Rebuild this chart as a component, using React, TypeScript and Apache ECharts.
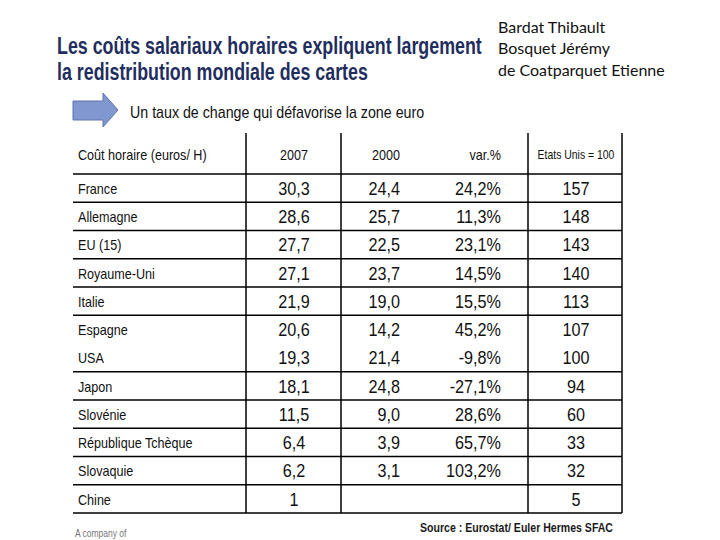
import React, { useEffect, useRef } from "react";
import * as echarts from "echarts";

const titleLines = [
  "Les coûts salariaux horaires expliquent largement",
  "la redistribution mondiale des cartes",
];
const subtitle = "Un taux de change qui défavorise la zone euro";
const authors = ["Bardat Thibault", "Bosquet Jérémy", "de Coatparquet Etienne"];
const headers = ["Coût horaire (euros/ H)", "2007", "2000", "var.%", "Etats Unis = 100"];
const countries = [
  "France", "Allemagne", "EU (15)", "Royaume-Uni", "Italie", "Espagne",
  "USA", "Japon", "Slovénie", "République Tchèque", "Slovaquie", "Chine",
];
const cost2007 = ["30,3", "28,6", "27,7", "27,1", "21,9", "20,6", "19,3", "18,1", "11,5", "6,4", "6,2", "1"];
const cost2000 = ["24,4", "25,7", "22,5", "23,7", "19,0", "14,2", "21,4", "24,8", "9,0", "3,9", "3,1", ""];
const variation = ["24,2%", "11,3%", "23,1%", "14,5%", "15,5%", "45,2%", "-9,8%", "-27,1%", "28,6%", "65,7%", "103,2%", ""];
const usIndex = ["157", "148", "143", "140", "113", "107", "100", "94", "60", "33", "32", "5"];
const source = "Source : Eurostat/ Euler Hermes SFAC";
const footer = "A company of";

export default function App() {
  const ref = useRef<HTMLDivElement>(null);
  useEffect(() => {
    if (!ref.current) return;
    const chart = echarts.init(ref.current, null, { renderer: "svg" });

    const font = "Arial, 'Liberation Sans', sans-serif";
    const tableTop = 133;
    const headerBottom = 174;
    const rowH = (513 - headerBottom) / countries.length;
    const left = 73;
    const right = 622;
    const vLines = [246, 341, 528, 622];
    const g: any[] = [];

    g.push({ type: "rect", shape: { x: 0, y: 0, width: 720, height: 540 }, style: { fill: "#ffffff" }, silent: true });

    // Title
    titleLines.forEach((t, i) => {
      g.push({
        type: "text", x: 57, y: 46 + i * 26, scaleX: 0.775,
        style: { text: t, fill: "#1f2e5e", font: `bold 23px ${font}`, align: "left", verticalAlign: "middle" },
      });
    });

    // Authors
    authors.forEach((t, i) => {
      g.push({
        type: "text", x: 498, y: 26 + i * 21.5,
        style: { text: t, fill: "#111", font: `16px Lato, 'Open Sans', sans-serif`, align: "left", verticalAlign: "middle" },
      });
    });

    // Arrow
    g.push({
      type: "polygon",
      shape: { points: [[73, 101], [103, 101], [103, 93], [118, 110], [103, 127], [103, 120], [73, 120]] },
      style: { fill: "#8097cf", stroke: "#5f74ad", lineWidth: 1 },
    });
    g.push({
      type: "text", x: 130, y: 112, scaleX: 0.89,
      style: { text: subtitle, fill: "#111", font: `16px ${font}`, align: "left", verticalAlign: "middle" },
    });

    // Table lines
    for (let i = 0; i <= countries.length; i++) {
      if (i === 6) continue; // no line between Espagne and USA
      const y = headerBottom + i * rowH;
      g.push({ type: "line", shape: { x1: left, y1: y, x2: right, y2: y }, style: { stroke: "#000", lineWidth: 1.5 } });
    }
    vLines.forEach((x) => {
      g.push({ type: "line", shape: { x1: x, y1: tableTop, x2: x, y2: 513 }, style: { stroke: "#000", lineWidth: 1.5 } });
    });

    // Header
    const headerY = 155;
    const colX = [78, 294, 400, 501, 576];
    const colAlign = ["left", "center", "right", "right", "center"];
    headers.forEach((h, c) => {
      const small = c === 4;
      g.push({
        type: "text", x: colX[c], y: headerY, scaleX: small ? 0.87 : 0.9,
        style: { text: h, fill: "#111", font: `${small ? 12 : 14}px ${font}`, align: colAlign[c], verticalAlign: "middle" },
      });
    });

    // Rows
    const cols = [countries, cost2007, cost2000, variation, usIndex];
    countries.forEach((_, r) => {
      const y = headerBottom + (r + 0.5) * rowH + 1;
      cols.forEach((arr, c) => {
        const isLabel = c === 0;
        g.push({
          type: "text", x: colX[c], y, scaleX: 0.9,
          style: { text: arr[r], fill: "#111", font: `${isLabel ? 14 : 18}px ${font}`, align: colAlign[c], verticalAlign: "middle" },
        });
      });
    });

    // Footer
    g.push({
      type: "text", x: 613, y: 528, scaleX: 0.88,
      style: { text: source, fill: "#1a1a1a", font: `bold 12px ${font}`, align: "right", verticalAlign: "middle" },
    });
    g.push({
      type: "text", x: 75, y: 534, scaleX: 0.85,
      style: { text: footer, fill: "#777", font: `10px ${font}`, align: "left", verticalAlign: "middle" },
    });

    chart.setOption({ animation: false, backgroundColor: "#ffffff", graphic: { elements: g } });
    return () => chart.dispose();
  }, []);

  return <div ref={ref} style={{ position: "fixed", left: 0, top: 0, width: 720, height: 540 }} />;
}
